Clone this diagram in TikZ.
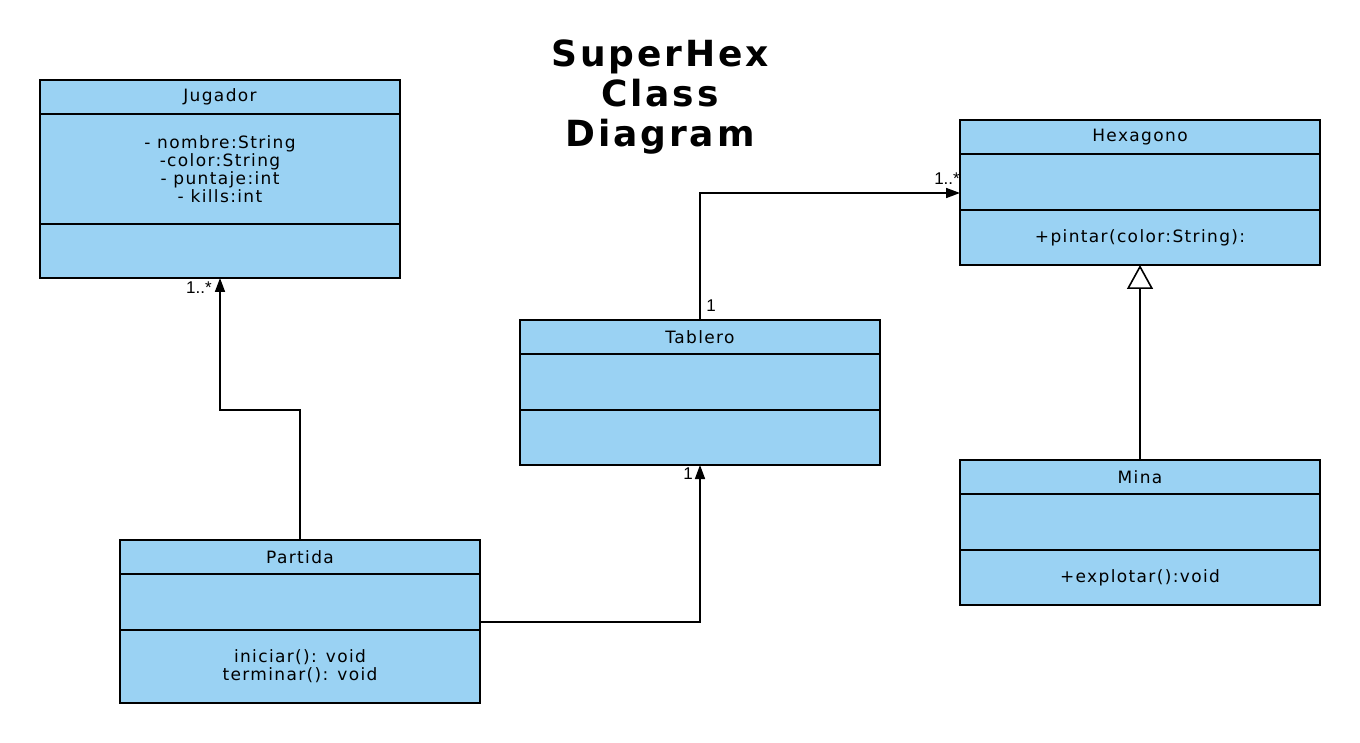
\documentclass[tikz,border=0pt]{standalone}
\usepackage{fontspec}
\setmainfont{DejaVu Sans}
\newfontfamily\classfont[LetterSpace=8]{DejaVu Sans}
\newfontfamily\titlefont[LetterSpace=8]{DejaVu Sans Bold}
\newfontfamily\multfont{Liberation Sans}
\usetikzlibrary{positioning,arrows.meta}
\definecolor{classblue}{RGB}{154,210,243}

\tikzset{
  classpart/.style={draw=black, line width=1.6pt, fill=classblue, minimum width=360,
    inner sep=0pt, outer sep=0pt, align=center, font=\classfont\fontsize{17}{18}\selectfont},
  classhead/.style={classpart, minimum height=34},
  assoc/.style={draw=black, line width=1.6pt, -{Triangle[length=14pt,width=10pt]}},
  inherit/.style={draw=black, line width=1.6pt, -{Triangle[open,length=24pt,width=26pt,fill=white]}},
  mult/.style={font=\multfont\fontsize{17}{17}\selectfont, inner sep=1pt}
}

\begin{document}
\begin{tikzpicture}[x=1pt,y=-1pt]
\useasboundingbox[fill=white] (0,0) rectangle (1360,743);

% title
\node[font=\titlefont\fontsize{36}{40}\selectfont, align=center] (title) at (660,97) {SuperHex\\Class\\Diagram};

% Jugador
\node[classhead] (jugadorHead) at (220,97) {Jugador};
\node[classpart, minimum height=110, below=0pt of jugadorHead] (jugadorAttr)
  {- nombre:String\\-color:String\\- puntaje:int\\- kills:int};
\node[classpart, minimum height=54, below=0pt of jugadorAttr] (jugadorOps) {};

% Hexagono
\node[classhead] (hexagonoHead) at (1140,137) {Hexagono};
\node[classpart, minimum height=56, below=0pt of hexagonoHead] (hexagonoAttr) {};
\node[classpart, minimum height=55, below=0pt of hexagonoAttr] (hexagonoOps) {+pintar(color:String):};

% Tablero
\node[classhead] (tableroHead) at (700,337) {Tablero};
\node[classpart, minimum height=56, below=0pt of tableroHead] (tableroAttr) {};
\node[classpart, minimum height=55, below=0pt of tableroAttr] (tableroOps) {};

% Partida
\node[classhead] (partidaHead) at (300,557) {Partida};
\node[classpart, minimum height=56, below=0pt of partidaHead] (partidaAttr) {};
\node[classpart, minimum height=73, below=0pt of partidaAttr] (partidaOps)
  {iniciar(): void\\terminar(): void};

% Mina
\node[classhead] (minaHead) at (1140,477) {Mina};
\node[classpart, minimum height=56, below=0pt of minaHead] (minaAttr) {};
\node[classpart, minimum height=55, below=0pt of minaAttr] (minaOps) {+explotar():void};

% relations
\draw[assoc] (partidaHead.north) -- ++(0,-130) -| (jugadorOps.south);
\draw[assoc] ([yshift=8pt]partidaAttr.south east) -| (tableroOps.south);
\draw[assoc] (tableroHead.north) |- ([yshift=-11pt]hexagonoAttr.west);
\draw[inherit] (minaHead.north) -- (hexagonoOps.south);

% multiplicities
\node[mult] (multJugador) at (199,288) {1..*};
\node[mult] (multTableroBot) at (688,474) {1};
\node[mult] (multTableroTop) at (711,306) {1};
\node[mult] (multHexagono) at (947,179) {1..*};
\end{tikzpicture}
\end{document}
